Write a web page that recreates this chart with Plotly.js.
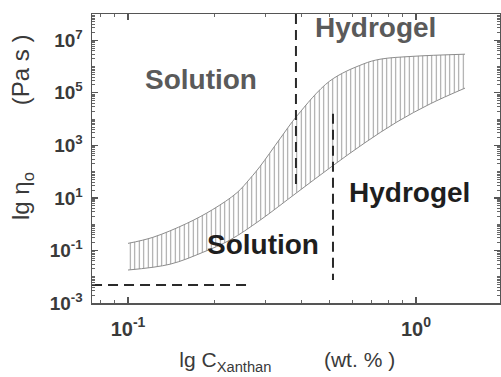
<!DOCTYPE html>
<html>
<head>
<meta charset="utf-8">
<script src="https://cdn.plot.ly/plotly-3.0.1.min.js"></script>
<style>html,body{margin:0;padding:0;background:#fff;}#chart{width:501px;height:377px;}</style>
</head>
<body>
<div id="chart"></div>
<script>
// Upper and lower bounds of the zero-shear viscosity band (wt.% , Pa s)
const upperX = [0.1, 0.122, 0.160, 0.197, 0.239, 0.265, 0.287, 0.337, 0.386, 0.502, 0.654, 0.750, 0.977, 1.48];
const upperY = [0.186, 0.316, 1.07, 3.63, 15.8, 53.7, 155, 1778, 13180, 281800, 1.23e6, 1.9e6, 2.45e6, 2.95e6];
const lowerX = [0.1, 0.140, 0.182, 0.226, 0.287, 0.386, 0.515, 0.665, 0.859, 1.12, 1.48];
const lowerY = [0.018, 0.030, 0.085, 0.25, 1.4, 16, 170, 1260, 7800, 38000, 151000];

// Boundary (dashed) lines
const gel1X = [0.383, 0.383];
const gel1Y = [1e8, 25];
const gel2X = [0.515, 0.515];
const gel2Y = [16000, 0.0075];
const baseX = [0.075, 0.259];
const baseY = [0.0048, 0.0048];

// Region labels and tick labels
const regionLabels = ["Solution", "Hydrogel", "Hydrogel", "Solution"];
const yTickVals = [1e-3, 1e-1, 1e1, 1e3, 1e5, 1e7];
const yTickText = ["10<sup>-3</sup>", "10<sup>-1</sup>", "10<sup>1</sup>", "10<sup>3</sup>", "10<sup>5</sup>", "10<sup>7</sup>"];
const xTickVals = [0.1, 1];
const xTickText = ["10<sup>-1</sup>", "10<sup>0</sup>"];

const FONT = "Liberation Sans, Arial, sans-serif";
const dashStyle = {color: "#2a2a2a", width: 2, dash: "10px,6px"};

const traces = [
  {x: lowerX, y: lowerY, mode: "lines", line: {color: "#8c8c8c", width: 1, shape: "spline"}, hoverinfo: "skip", showlegend: false},
  {x: upperX, y: upperY, mode: "lines", line: {color: "#8c8c8c", width: 1, shape: "spline"},
   fill: "tonexty", fillcolor: "white",
   fillpattern: {shape: "|", size: 4.5, solidity: 0.22, fgcolor: "#9a9a9a", bgcolor: "white"},
   hoverinfo: "skip", showlegend: false},
  {x: gel1X, y: gel1Y, mode: "lines", line: dashStyle, showlegend: false},
  {x: gel2X, y: gel2Y, mode: "lines", line: dashStyle, showlegend: false},
  {x: baseX, y: baseY, mode: "lines", line: dashStyle, showlegend: false}
];

const ann = (text, x, y, color) => ({
  text: text, xref: "paper", yref: "paper", x: x, y: y, xanchor: "center", yanchor: "middle",
  showarrow: false, font: {family: FONT, size: 28, color: color, weight: "bold"}
});

const axisCommon = {
  type: "log", showline: true, linecolor: "#555", linewidth: 1.5, mirror: "allticks",
  ticks: "inside", ticklen: 6, tickwidth: 1.2, tickcolor: "#555",
  showgrid: false, zeroline: false, tickmode: "array",
  minor: {ticks: "inside", ticklen: 3, tickwidth: 1, tickcolor: "#666", dtick: "D1", showgrid: false}
};

const layout = {
  width: 501, height: 377,
  margin: {l: 92, r: 1, t: 14, b: 74},
  paper_bgcolor: "white", plot_bgcolor: "white",
  showlegend: false,
  xaxis: Object.assign({}, axisCommon, {
    range: [-1.125, 0.2917], tickvals: xTickVals, ticktext: xTickText, ticklabelstandoff: 7,
    tickfont: {family: FONT, size: 20, color: "#3a3a3a", weight: "bold"},
    title: {text: "lg C<sub>Xanthan</sub>\u00A0\u00A0\u00A0\u00A0\u00A0\u00A0\u00A0\u00A0\u00A0(wt. % )\u00A0\u00A0\u00A0\u200B", standoff: 14,
            font: {family: FONT, size: 21, color: "#3a3a3a"}}
  }),
  yaxis: Object.assign({}, axisCommon, {
    range: [-3, 8], tickvals: yTickVals, ticktext: yTickText, ticklabelstandoff: 4,
    tickfont: {family: FONT, size: 19, color: "#3a3a3a", weight: "bold"}
  }),
  annotations: [
    ann(regionLabels[0], 0.267, 0.772, "#5a5a5a"),
    ann(regionLabels[1], 0.694, 0.955, "#5a5a5a"),
    ann(regionLabels[2], 0.777, 0.384, "#1e1e1e"),
    ann(regionLabels[3], 0.419, 0.201, "#1e1e1e"),
    {text: "lg \u03b7<sub>o</sub>\u00A0\u00A0\u00A0\u00A0\u00A0\u00A0\u00A0\u00A0\u00A0\u00A0(Pa s )",
     xref: "paper", yref: "paper", x: -70 / 408, y: (303 - 128) / 289, xanchor: "center", yanchor: "middle",
     textangle: -90, showarrow: false, font: {family: FONT, size: 24, color: "#3a3a3a"}}
  ]
};

Plotly.newPlot("chart", traces, layout, {staticPlot: true, displayModeBar: false});
</script>
</body>
</html>
